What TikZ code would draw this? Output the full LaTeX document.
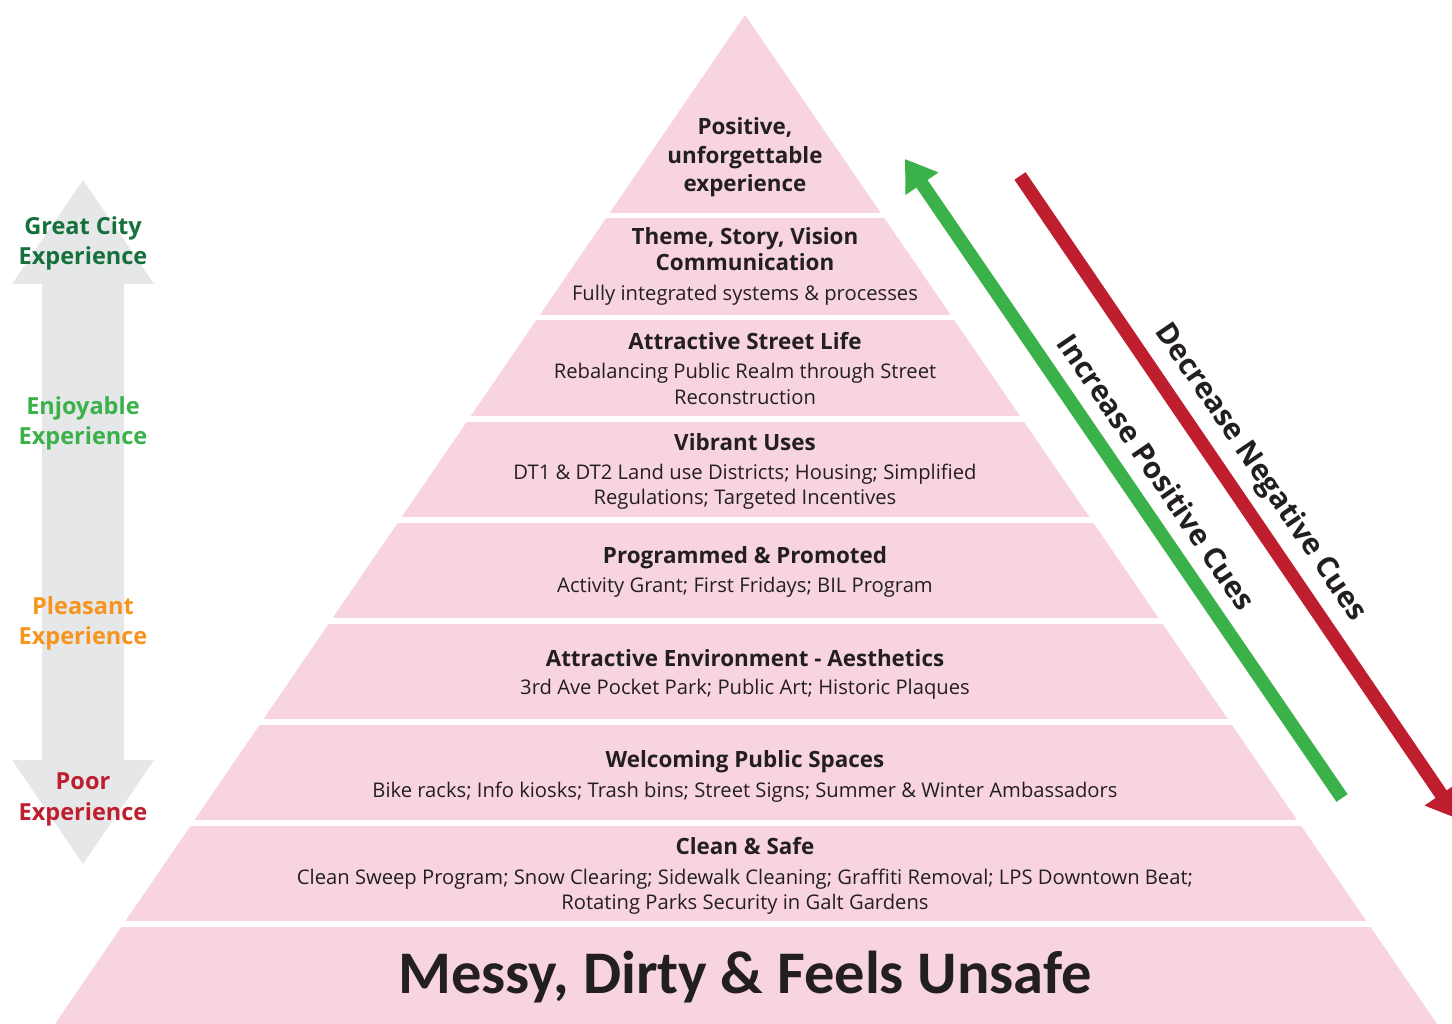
\documentclass[tikz,border=0pt]{standalone}
\usepackage{fontspec}
\setmainfont{Open Sans}
\newfontfamily\calib{Carlito}
\usetikzlibrary{arrows.meta}
\definecolor{pyr}{HTML}{F8D4E2}
\definecolor{txt}{HTML}{231F20}
\definecolor{grayar}{HTML}{E6E7E8}
\definecolor{dgreen}{HTML}{16703B}
\definecolor{lgreen}{HTML}{3BB14A}
\definecolor{orng}{HTML}{F7941D}
\definecolor{dred}{HTML}{BE1E2D}
\tikzset{
 ttl/.style={font=\bfseries\fontsize{22.4}{22.4}\selectfont, text=txt, anchor=base, inner sep=0},
 dsc/.style={font=\fontsize{20.2}{20.2}\selectfont, text=txt, anchor=base, inner sep=0},
 lbl/.style={font=\bfseries\fontsize{23.5}{23.5}\selectfont, anchor=base, inner sep=0},
 cue/.style={font=\bfseries\fontsize{29.5}{29.5}\selectfont, text=txt, rotate=-55.7, inner sep=0},
 cuearrow/.style={line width=13.5pt, -{Triangle[length=30pt,width=38pt]}},
 gap/.style={fill=white},
}
\begin{document}
\begin{tikzpicture}[x=1pt,y=-1pt]
\useasboundingbox (0,0) rectangle (1452,1024);
\fill[white] (0,0) rectangle (1452,1024);
% pyramid
\fill[pyr] (745,15) -- (55,1024) -- (1437,1024) -- cycle;
\foreach \g in {213,315,416,517,618,719,820,921}{
  \fill[gap] (40,\g) rectangle (1452,\g+5.5);
}
% gray double arrow
\fill[grayar] (83,180) -- (154,284) -- (124,284) -- (124,760) -- (154,760) -- (83,864)
  -- (12,760) -- (42,760) -- (42,284) -- (12,284) -- cycle;
% left labels
\node[lbl,text=dgreen] (g1) at (83,235) {Great City};
\node[lbl,text=dgreen] (g2) at (83,265) {Experience};
\node[lbl,text=lgreen] (e1) at (83,414) {Enjoyable};
\node[lbl,text=lgreen] (e2) at (83,444) {Experience};
\node[lbl,text=orng] (p1) at (83,614) {Pleasant};
\node[lbl,text=orng] (p2) at (83,644) {Experience};
\node[lbl,text=dred] (r1) at (83,789) {Poor};
\node[lbl,text=dred] (r2) at (83,820) {Experience};
% pyramid texts
\node[ttl] (a1) at (745,135) {Positive,};
\node[ttl] (a2) at (745,164) {unforgettable};
\node[ttl] (a3) at (745,192) {experience};
\node[ttl] (b1) at (745,245) {Theme, Story, Vision};
\node[ttl] (b2) at (745,271) {Communication};
\node[dsc] (b3) at (745,301) {Fully integrated systems \& processes};
\node[ttl] (c1) at (745,350) {Attractive Street Life};
\node[dsc] (c2) at (745,379) {Rebalancing Public Realm through Street};
\node[dsc] (c3) at (745,404) {Reconstruction};
\node[ttl] (d1) at (745,450) {Vibrant Uses};
\node[dsc] (d2) at (745,479) {DT1 \& DT2 Land use Districts; Housing; Simplified};
\node[dsc] (d3) at (745,504) {Regulations; Targeted Incentives};
\node[ttl] (e1p) at (745,563) {Programmed \& Promoted};
\node[dsc] (e2p) at (745,592) {Activity Grant; First Fridays; BIL Program};
\node[ttl] (f1) at (745,666) {Attractive Environment - Aesthetics};
\node[dsc] (f2) at (745,694) {3rd Ave Pocket Park; Public Art; Historic Plaques};
\node[ttl] (h1) at (745,767) {Welcoming Public Spaces};
\node[dsc] (h2) at (745,797) {Bike racks; Info kiosks; Trash bins; Street Signs; Summer \& Winter Ambassadors};
\node[ttl] (i1) at (745,854) {Clean \& Safe};
\node[dsc] (i2) at (745,884) {Clean Sweep Program; Snow Clearing; Sidewalk Cleaning; Graffiti Removal; LPS Downtown Beat;};
\node[dsc] (i3) at (745,909) {Rotating Parks Security in Galt Gardens};
\node[anchor=base,inner sep=0,text=txt,font=\calib\bfseries\fontsize{60.5}{60.5}\selectfont] (m) at (745,993) {Messy, Dirty \& Feels Unsafe};
% cue arrows
\coordinate (gs) at (1342,798);
\coordinate (ge) at (905,159);
\coordinate (rs) at (1020,176);
\coordinate (re) at (1458,819);
\draw[cuearrow,draw=lgreen,fill=lgreen] (gs) -- (ge);
\draw[cuearrow,draw=dred,fill=dred] (rs) -- (re);
\node[cue] (inc) at (1157,472) {Increase Positive Cues};
\node[cue] (dec) at (1260,473) {Decrease Negative Cues};
\end{tikzpicture}
\end{document}
